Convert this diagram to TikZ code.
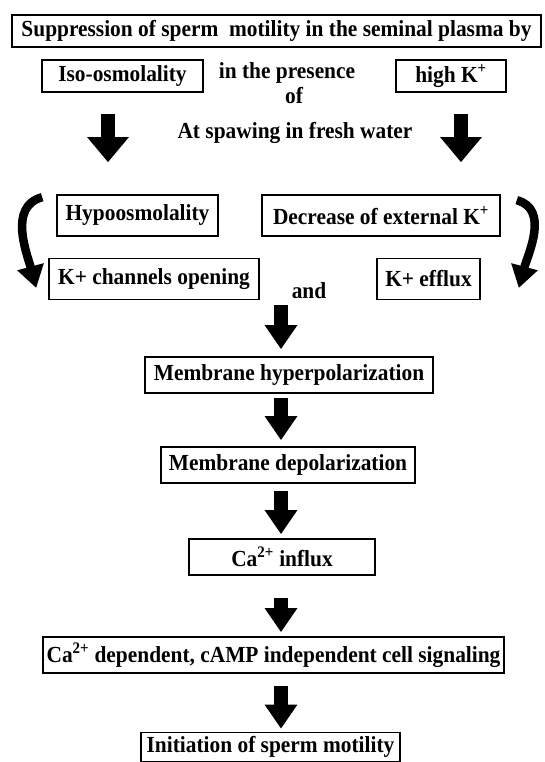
\documentclass[tikz,border=0pt]{standalone}
\usepackage{fontspec}
\setmainfont[FakeStretch=0.93]{Liberation Serif}
\usepackage{tikz}
\usetikzlibrary{arrows.meta, calc}

\tikzset{
  stepbox/.style={draw, line width=1.6pt, inner sep=0pt, align=center},
  fatarrow/.style={line width=14pt, -{Triangle[width=31pt,length=24pt]}},
  toparrow/.style={line width=14pt, -{Triangle[width=40pt,length=25pt]}},
  bendarrow/.style={line width=8.5pt, -{Triangle[width=26pt,length=22pt]}}
}

\begin{document}
\begin{tikzpicture}[x=1pt, y=-1pt, font=\bfseries\fontsize{23}{26}\selectfont]
  \useasboundingbox (0,0) rectangle (545,762);

  % suppression in the seminal plasma
  \node[stepbox, minimum width=529pt, minimum height=32pt] (supp) at (276.5,31)
    {Suppression of sperm~ motility in the seminal plasma by};
  \node[stepbox, minimum width=161pt, minimum height=32pt] (iso) at (122.5,76) {Iso-osmolality};
  \node[stepbox, minimum width=110pt, minimum height=32pt] (highk) at (451,76) {high K\textsuperscript{+}};
  \node (pres) at (287,73) {in the presence};
  \node (of) at (294,96) {of};
  \node (spawn) at (295,133) {At spawing in fresh water};

  % at spawning
  \node[stepbox, minimum width=161pt, minimum height=41pt] (hypo) at (137.5,215.5) {Hypoosmolality};
  \node[stepbox, minimum width=238pt, minimum height=41pt] (decr) at (381,215.5) {Decrease of external K\textsuperscript{+}};
  \node[stepbox, minimum width=210pt, minimum height=41pt] (kchan) at (154,279) {K+ channels opening};
  \node[stepbox, minimum width=103pt, minimum height=41pt] (efflux) at (428.5,279) {K+ efflux};
  \node (and) at (309,291) {and};

  % cascade
  \node[stepbox, minimum width=288pt, minimum height=36pt] (hyper) at (289,375) {Membrane hyperpolarization};
  \node[stepbox, minimum width=254pt, minimum height=36pt] (depol) at (288,465) {Membrane depolarization};
  \node[stepbox, minimum width=186pt, minimum height=36pt] (cain) at (282,557) {Ca\textsuperscript{2+} influx};
  \node[stepbox, minimum width=461pt, minimum height=36pt] (cadep) at (273.5,655)
    {Ca\textsuperscript{2+} dependent, cAMP independent cell signaling};
  \node[stepbox, minimum width=259pt, minimum height=29pt] (init) at (270.5,747) {Initiation of sperm motility};

  \coordinate (lx) at (108,0);
  \coordinate (rx) at (461,0);
  \coordinate (cx) at (281,0);

  \draw[toparrow, shorten <=21pt, shorten >=32pt] (iso.south -| lx) -- (hypo.north -| lx);
  \draw[toparrow, shorten <=21pt, shorten >=32pt] (highk.south -| rx) -- (decr.north -| rx);

  \draw[bendarrow] ([xshift=-14pt,yshift=-3pt]hypo.north west) to[out=195,in=105] ([xshift=-12pt,yshift=-9pt]kchan.west);
  \draw[bendarrow] ([xshift=16pt,yshift=-6pt]decr.north east) to[out=-15,in=75] ([xshift=38pt,yshift=-9pt]efflux.east);

  \draw[fatarrow, shorten <=5pt, shorten >=7pt] (kchan.south -| cx) -- (hyper.north -| cx);
  \draw[fatarrow, shorten <=4pt, shorten >=6pt] (hyper.south -| cx) -- (depol.north -| cx);
  \draw[fatarrow, shorten <=7pt, shorten >=4pt] (depol.south -| cx) -- (cain.north -| cx);
  \draw[fatarrow, shorten <=22pt, shorten >=4pt] (cain.south -| cx) -- (cadep.north -| cx);
  \draw[fatarrow, shorten <=12pt, shorten >=3pt] (cadep.south -| cx) -- (init.north -| cx);
\end{tikzpicture}
\end{document}
